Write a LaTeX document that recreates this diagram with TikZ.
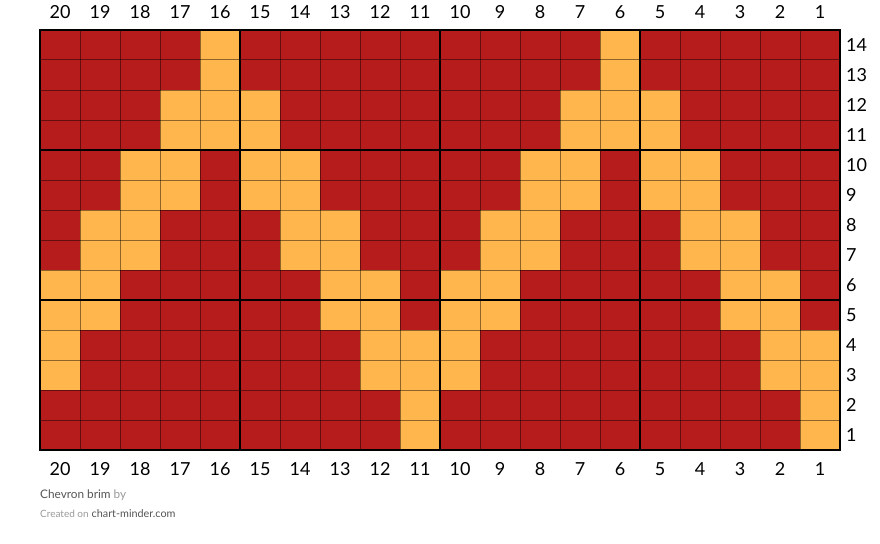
\documentclass[tikz,border=0pt]{standalone}
\usepackage{fontspec}
\setmainfont{Lato}
\usepackage{xcolor}
\definecolor{brimred}{HTML}{B71C1C}
\definecolor{brimgold}{HTML}{FFB74D}
\definecolor{notegray}{HTML}{9A9A9A}
\definecolor{notedark}{HTML}{555555}

\begin{document}
\begin{tikzpicture}[x=1pt, y=-1pt,
  cellline/.style={black, opacity=0.45, line width=1pt},
  blockline/.style={black, line width=2pt},
  num/.style={font=\fontsize{18}{20}\selectfont, text=black, inner sep=0pt},
  note/.style={font=\fontsize{11.8}{13}\selectfont, text=notegray, inner sep=0pt}]
  \fill[white] (0,0) rectangle (880,543);
  % chart cells, gold zig-zag every 10 stitches
  \foreach \r in {1,...,14} {
    \foreach \c in {1,...,20} {
      \pgfmathtruncatemacro\px{mod(\c-1,10)}
      \pgfmathtruncatemacro\pd{min(\px,10-\px)}
      \pgfmathtruncatemacro\pk{(\r+1)/2}
      \pgfmathtruncatemacro\gold{(\pd==\pk-1) || (\pd==\pk-2)}
      \ifnum\gold=1 \def\cellcol{brimgold}\else\def\cellcol{brimred}\fi
      \fill[\cellcol] ({40+40*(20-\c)},{450-30*\r}) rectangle +(40,30);
    }
  }
  % thin grid
  \foreach \i in {1,...,19}
    \draw[cellline] ({40+40*\i},30) -- ({40+40*\i},450);
  \foreach \j in {1,...,13}
    \draw[cellline] (40,{30+30*\j}) -- (840,{30+30*\j});
  % blocks of 5
  \foreach \xx in {40,240,440,640,840}
    \draw[blockline] (\xx,30) -- (\xx,450);
  \foreach \yy in {30,150,300,450}
    \draw[blockline] (39,\yy) -- (841,\yy);
  % stitch and row numbers
  \foreach \c in {1,...,20} {
    \node[num] (top\c) at ({60+40*(20-\c)},12) {\c};
    \node[num] (bot\c) at ({60+40*(20-\c)},469) {\c};
  }
  \foreach \r in {1,...,14}
    \node[num, anchor=west] (row\r) at (846,{435-30*(\r-1)}) {\r};
  % footer
  \node[note, anchor=base west] (title) at (40,498) {\textcolor{notedark}{Chevron brim} by};
  \node[note, anchor=base west] (credit) at (40,517)
    {{\fontsize{10}{12}\selectfont Created on} {\fontsize{10.8}{12}\selectfont\textcolor{notedark}{chart-minder.com}}};
\end{tikzpicture}
\end{document}
